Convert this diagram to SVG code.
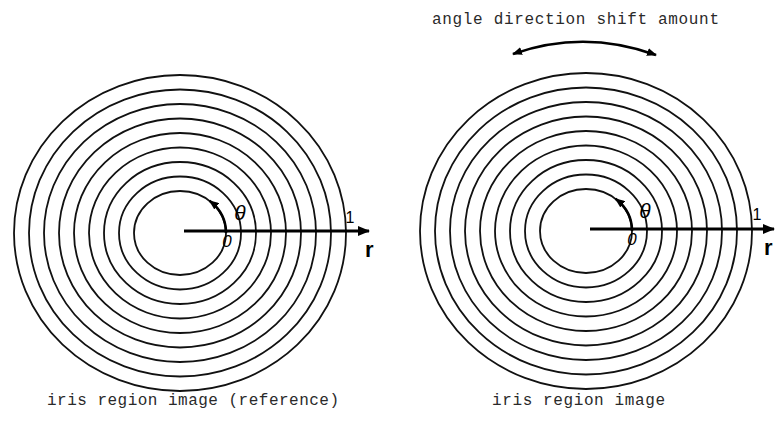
<svg xmlns="http://www.w3.org/2000/svg" width="775" height="437" viewBox="0 0 775 437">
<style>
.ring{fill:none;stroke:#111;stroke-width:1.8}
.axis{stroke:#000;stroke-width:3;fill:none}
.ang{stroke:#000;stroke-width:2.6;fill:none}
.cap{font-family:"Liberation Mono","Courier New",monospace;font-size:16px;fill:#2a2a2a}
.lab{font-family:"Liberation Sans",Arial,sans-serif;fill:#000}
</style>
<defs>
<marker id="big" viewBox="0 0 12 10" refX="11" refY="5" markerWidth="12" markerHeight="10" markerUnits="userSpaceOnUse" orient="auto"><path d="M0,0 L12,5 L0,10 z" fill="#000"/></marker>
<marker id="sm" viewBox="0 0 10 8" refX="9" refY="4" markerWidth="10" markerHeight="8" markerUnits="userSpaceOnUse" orient="auto-start-reverse"><path d="M0,0 L10,4 L0,8 z" fill="#000"/></marker>
<g id="rings">
<ellipse class="ring" cx="0" cy="0" rx="46" ry="42"/>
<ellipse class="ring" cx="0" cy="0" rx="61" ry="56.5"/>
<ellipse class="ring" cx="0" cy="0" rx="76" ry="71"/>
<ellipse class="ring" cx="0" cy="0" rx="91" ry="85.5"/>
<ellipse class="ring" cx="0" cy="0" rx="106" ry="100"/>
<ellipse class="ring" cx="0" cy="0" rx="121" ry="114.5"/>
<ellipse class="ring" cx="0" cy="0" rx="136" ry="129"/>
<ellipse class="ring" cx="0" cy="0" rx="151" ry="143.5"/>
<ellipse class="ring" cx="0" cy="0" rx="166" ry="158"/>
</g>
</defs>
<g id="iris-reference">
<use href="#rings" x="180" y="233"/>
<text class="lab" x="350" y="223" font-size="16" text-anchor="middle">1</text>
<text class="lab" x="365" y="257" font-size="22" font-weight="bold">r</text>
<text class="lab" x="240" y="220" font-size="21" font-style="italic" text-anchor="middle">θ</text>
<text class="lab" x="227" y="247" font-size="17" font-style="italic" text-anchor="middle">0</text>
<text class="cap" x="47" y="405" textLength="292" lengthAdjust="spacing">iris region image (reference)</text>
</g>
<g id="iris-shifted">
<use href="#rings" x="586" y="231"/>
<text class="lab" x="757" y="220" font-size="16" text-anchor="middle">1</text>
<text class="lab" x="764" y="255" font-size="22" font-weight="bold">r</text>
<text class="lab" x="645" y="218" font-size="21" font-style="italic" text-anchor="middle">θ</text>
<text class="lab" x="632" y="245" font-size="17" font-style="italic" text-anchor="middle">0</text>
<text class="cap" x="492" y="405" textLength="173" lengthAdjust="spacing">iris region image</text>
<text class="cap" x="432" y="24" textLength="287" lengthAdjust="spacing">angle direction shift amount</text>
</g>
<g id="connectors">
<line class="axis" x1="184" y1="231" x2="369" y2="231" marker-end="url(#big)"/>
<line class="axis" x1="590" y1="229" x2="774" y2="229" marker-end="url(#big)"/>
<path class="ang" d="M226,233 A46,42 0 0,0 209.6,200.8" marker-end="url(#sm)"/>
<path class="ang" d="M632,231 A46,42 0 0,0 615.6,198.8" marker-end="url(#sm)"/>
<path class="ang" d="M513,54 Q584,29 656,55" marker-start="url(#sm)" marker-end="url(#sm)"/>
</g>
</svg>
